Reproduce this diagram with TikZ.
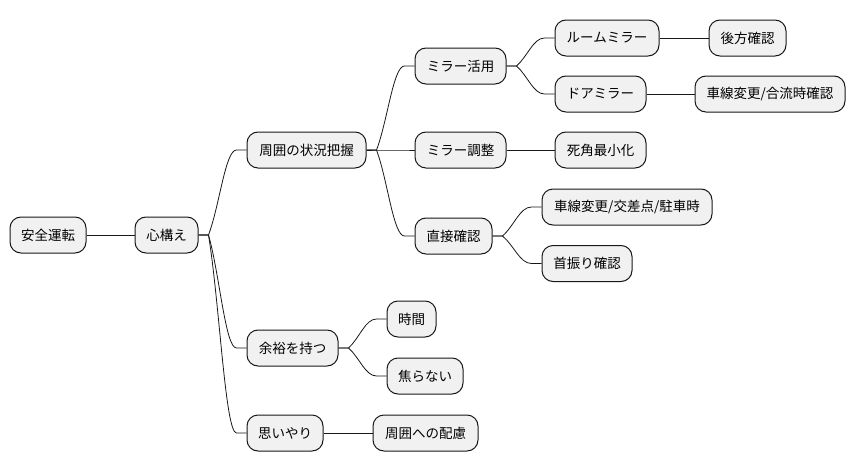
\documentclass[tikz,border=0pt]{standalone}
\usepackage{fontspec}
\setmainfont{Noto Sans CJK JP}
\usetikzlibrary{calc}
\definecolor{boxgray}{HTML}{F1F1F1}
\definecolor{edgecol}{HTML}{181818}
\newcommand\curvelink[2]{\draw[link] let \p1=(#1.east), \p2=(#2.west), \n1={\x2-\x1-20pt}, \n2={\y2-\y1} in (\p1) -- (\x1+10pt,\y1) .. controls (\x1+10pt+0.4*\n1*1pt, \y1+0.35*\n2*1pt) and (\x2-10pt-0.4*\n1*1pt,\y2) .. (\x2-10pt,\y2) -- (\p2);}
\begin{document}
\begin{tikzpicture}[x=1pt,y=-1pt,
  box/.style={draw=edgecol, line width=1pt, fill=boxgray, rounded corners=11pt, minimum height=36pt, inner sep=0pt, font=\fontsize{13.5}{16}\selectfont},
  link/.style={draw=edgecol, line width=0.8pt}]
\useasboundingbox (0,0) rectangle (857,471);
\node[box, minimum width=76pt]  (a) at (48,235) {安全運転};
\node[box, minimum width=63pt]  (b) at (166.5,235) {心構え};
\node[box, minimum width=119pt] (c) at (306.5,150) {周囲の状況把握};
\node[box, minimum width=91pt]  (d) at (460.5,66) {ミラー活用};
\node[box, minimum width=91pt]  (e) at (460.5,150) {ミラー調整};
\node[box, minimum width=77pt]  (f) at (453.5,236) {直接確認};
\node[box, minimum width=104pt] (g) at (607,38) {ルームミラー};
\node[box, minimum width=77pt]  (h) at (747.5,38) {後方確認};
\node[box, minimum width=91pt]  (i) at (600.5,94) {ドアミラー};
\node[box, minimum width=150pt] (j) at (770,94) {車線変更/合流時確認};
\node[box, minimum width=91pt]  (k) at (600.5,150) {死角最小化};
\node[box, minimum width=170pt] (l) at (627,207) {車線変更/交差点/駐車時};
\node[box, minimum width=90pt]  (m) at (587,263.5) {首振り確認};
\node[box, minimum width=91pt]  (n) at (292.5,348) {余裕を持つ};
\node[box, minimum width=49pt]  (o) at (411.5,319) {時間};
\node[box, minimum width=76pt]  (p) at (425,376) {焦らない};
\node[box, minimum width=76pt]  (q) at (285,433) {思いやり};
\node[box, minimum width=105pt] (r) at (425.5,433) {周囲への配慮};
\draw[link] (a) -- (b);
\curvelink{b}{c}
\curvelink{b}{n}
\curvelink{b}{q}
\curvelink{c}{d}
\curvelink{c}{e}
\curvelink{c}{f}
\curvelink{d}{g}
\curvelink{d}{i}
\draw[link] (g) -- (h);
\draw[link] (i) -- (j);
\draw[link] (e) -- (k);
\curvelink{f}{l}
\curvelink{f}{m}
\curvelink{n}{o}
\curvelink{n}{p}
\draw[link] (q) -- (r);
\end{tikzpicture}
\end{document}
